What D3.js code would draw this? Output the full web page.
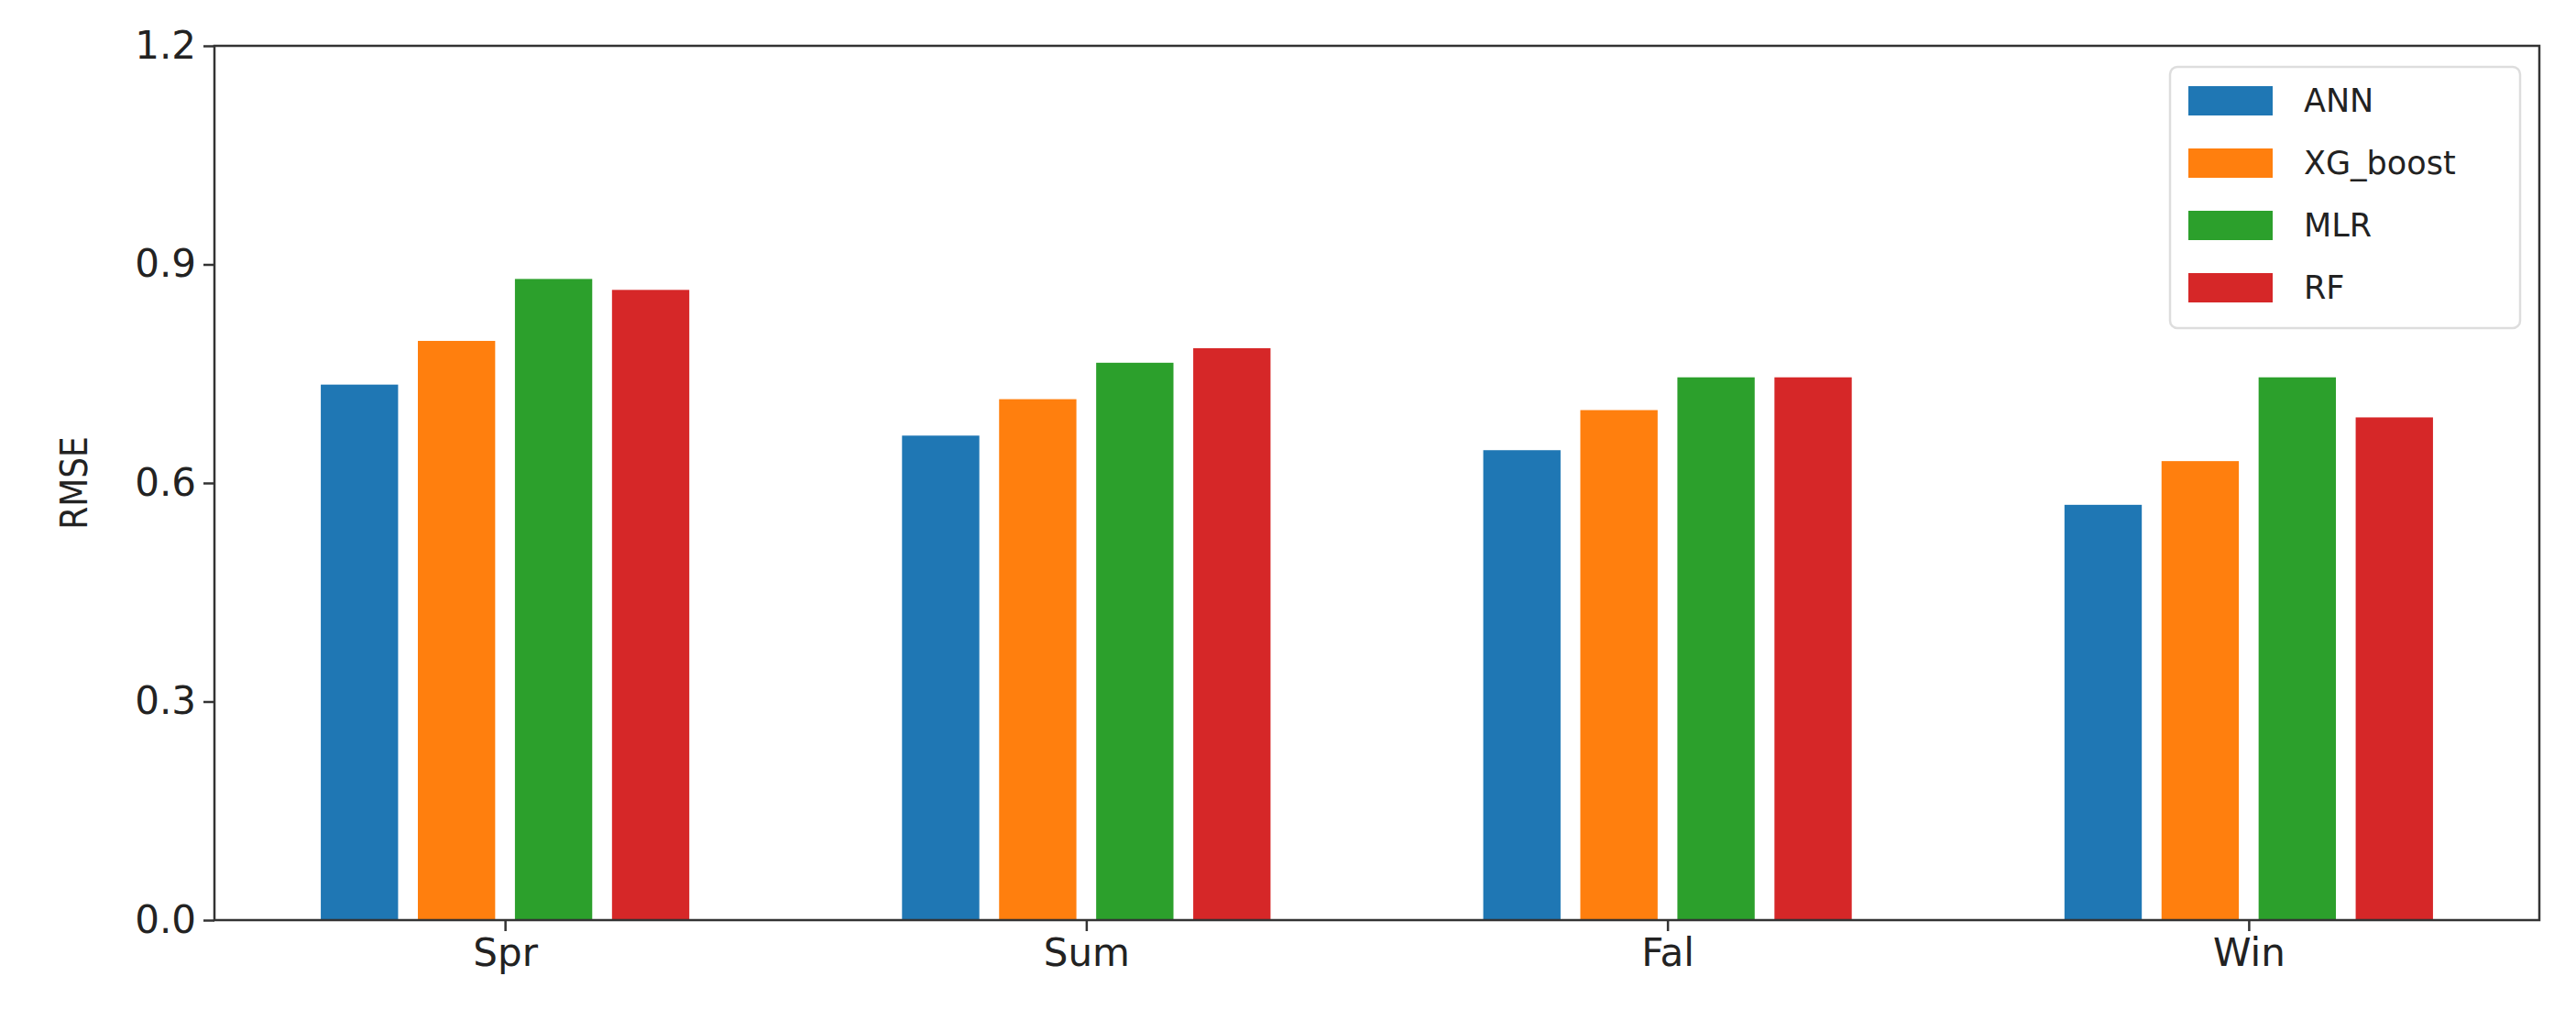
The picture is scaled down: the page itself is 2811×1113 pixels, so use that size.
<!DOCTYPE html>
<html><head><meta charset="utf-8">
<script src="https://cdn.jsdelivr.net/npm/d3@7"></script>
<style>body{margin:0;background:#fff}text{font-family:"DejaVu Sans",sans-serif}</style>
</head><body>
<script>
const seasons = ['Spr', 'Sum', 'Fal', 'Win'];
const models = ['ANN', 'XG_boost', 'MLR', 'RF'];
const colors = ['#1f77b4', '#ff7f0e', '#2ca02c', '#d62728'];
const ann = [0.735, 0.665, 0.645, 0.570];
const xgb = [0.795, 0.715, 0.700, 0.630];
const mlr = [0.880, 0.765, 0.745, 0.745];
const rf = [0.865, 0.785, 0.745, 0.690];
const series = [ann, xgb, mlr, rf];
const yTicks = [0, 0.3, 0.6, 0.9, 1.2];

const w = 2811, h = 1113;
const mLeft = 234, mRight = 2771, mTop = 50, mBottom = 1004;

const svg = d3.select('body').append('svg').attr('width', w).attr('height', h);

const x = d3.scaleLinear().domain([-0.5, 3.5]).range([mLeft, mRight]);
const y = d3.scaleLinear().domain([0, 1.2]).range([mBottom, mTop]);
const step = 0.167, bw = 0.133;

series.forEach((vals, i) => {
	svg.append('g').selectAll('rect')
		.data(vals)
		.enter()
		.append('rect')
		.attr('x', (d, j) => x(j + (i - 1.5) * step - bw / 2))
		.attr('width', x(bw) - x(0))
		.attr('y', d => y(d))
		.attr('height', d => y(0) - y(d))
		.attr('fill', colors[i]);
});

const yAxis = svg.append('g').attr('transform', `translate(${mLeft},0)`)
	.call(d3.axisLeft(y).tickValues(yTicks).tickFormat(d3.format('.1f')).tickSize(12).tickPadding(8));
const xAxis = svg.append('g').attr('transform', `translate(0,${mBottom})`)
	.call(d3.axisBottom(x).tickValues([0, 1, 2, 3]).tickFormat(i => seasons[i]).tickSize(12).tickPadding(8));
[xAxis, yAxis].forEach(a => {
	a.select('.domain').remove();
	a.selectAll('line').attr('stroke', '#333').attr('stroke-width', 2.5);
	a.selectAll('text').attr('font-size', 42).attr('fill', '#222');
});

svg.append('rect').attr('x', mLeft).attr('y', mTop).attr('width', mRight - mLeft).attr('height', mBottom - mTop)
	.attr('fill', 'none').attr('stroke', '#333').attr('stroke-width', 2.5);

svg.append('text')
	.attr('transform', `translate(95,${(mTop + mBottom) / 2}) rotate(-90)`)
	.attr('text-anchor', 'middle')
	.attr('font-size', 40)
	.attr('font-stretch', 'condensed')
	.attr('fill', '#222')
	.text('RMSE');

const lg = svg.append('g').attr('transform', 'translate(2368,73)');
lg.append('rect').attr('width', 382).attr('height', 285).attr('rx', 8)
	.attr('fill', '#fff').attr('stroke', '#ddd').attr('stroke-width', 2.5);
models.forEach((m, i) => {
	lg.append('rect').attr('x', 20).attr('y', 21 + i * 68).attr('width', 92).attr('height', 32).attr('fill', colors[i]);
	lg.append('text').attr('x', 146).attr('y', 49 + i * 68).attr('font-size', 35).attr('fill', '#222').text(m);
});
</script>
</body></html>
